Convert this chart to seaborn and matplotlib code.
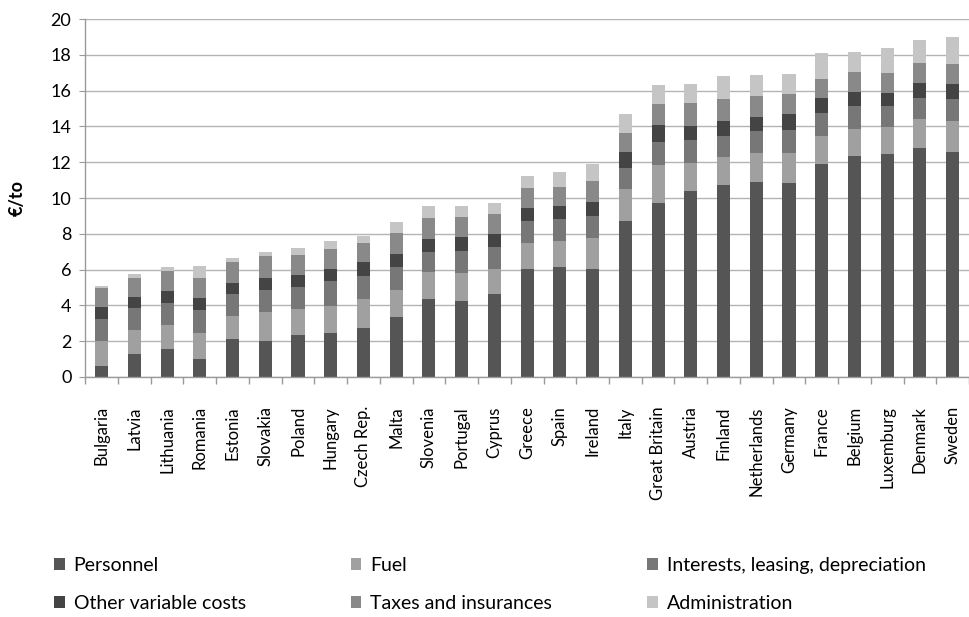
import numpy as np
import pandas as pd
import matplotlib
matplotlib.use("Agg")
import matplotlib.pyplot as plt
from matplotlib.patches import Patch
import seaborn as sns

countries = ["Bulgaria", "Latvia", "Lithuania", "Romania", "Estonia", "Slovakia",
             "Poland", "Hungary", "Czech Rep.", "Malta", "Slovenia", "Portugal",
             "Cyprus", "Greece", "Spain", "Ireland", "Italy", "Great Britain",
             "Austria", "Finland", "Netherlands", "Germany", "France", "Belgium",
             "Luxemburg", "Denmark", "Sweden"]

personnel = [0.61, 1.28, 1.58, 0.99, 2.14, 2.01, 2.33, 2.44, 2.76, 3.35, 4.38, 4.26,
             4.64, 6.01, 6.16, 6.01, 8.70, 9.74, 10.41, 10.71, 10.89, 10.84, 11.88,
             12.36, 12.48, 12.77, 12.59]
fuel = [1.42, 1.35, 1.34, 1.47, 1.29, 1.60, 1.45, 1.51, 1.58, 1.51, 1.47, 1.57,
        1.37, 1.49, 1.45, 1.73, 1.79, 2.12, 1.56, 1.58, 1.64, 1.69, 1.58, 1.51,
        1.47, 1.64, 1.71]
interests = [1.21, 1.21, 1.23, 1.26, 1.21, 1.27, 1.27, 1.41, 1.32, 1.29, 1.13, 1.23,
             1.23, 1.22, 1.21, 1.25, 1.21, 1.29, 1.27, 1.17, 1.21, 1.29, 1.27, 1.27,
             1.19, 1.16, 1.23]
other_variable = [0.65, 0.61, 0.65, 0.67, 0.61, 0.67, 0.63, 0.65, 0.75, 0.72, 0.75, 0.74,
                  0.73, 0.74, 0.73, 0.80, 0.86, 0.91, 0.76, 0.84, 0.80, 0.85, 0.86, 0.78,
                  0.74, 0.87, 0.84]
taxes = [1.06, 1.10, 1.12, 1.16, 1.16, 1.21, 1.14, 1.16, 1.09, 1.16, 1.15, 1.16,
         1.15, 1.12, 1.08, 1.15, 1.10, 1.17, 1.29, 1.21, 1.16, 1.14, 1.08, 1.12,
         1.10, 1.10, 1.15]
administration = [0.13, 0.19, 0.24, 0.67, 0.24, 0.24, 0.38, 0.45, 0.36, 0.62, 0.65, 0.59,
                  0.60, 0.65, 0.80, 0.99, 1.02, 1.08, 1.08, 1.31, 1.15, 1.10, 1.43, 1.10,
                  1.40, 1.32, 1.46]

series_names = ["Personnel", "Fuel", "Interests, leasing, depreciation",
                "Other variable costs", "Taxes and insurances", "Administration"]
series_values = [personnel, fuel, interests, other_variable, taxes, administration]
series_colors = ["#555555", "#a0a0a0", "#777777", "#444444", "#898989", "#c5c5c5"]

plt.rcParams["font.family"] = ["Lato", "DejaVu Sans"]

df = pd.DataFrame({"country": countries})
for name, vals in zip(series_names, series_values):
    df[name] = vals
cum = df[series_names].cumsum(axis=1)

fig = plt.figure(figsize=(9.69, 6.17), dpi=100)
ax = fig.add_axes([0.088, 0.389, 0.912, 0.58])

# stacked bars: draw cumulative tops from the top segment downwards
for name, color in reversed(list(zip(series_names, series_colors))):
    sns.barplot(data=df.assign(top=cum[name]), x="country", y="top", color=color,
                saturation=1, width=0.4, ax=ax, linewidth=0, errorbar=None)

ax.set_ylim(0, 20)
ax.set_xlim(-0.5, len(countries) - 0.5)
ax.set_yticks(np.arange(0, 21, 2))
ax.yaxis.grid(True, color="#b4b4b4", linewidth=1.0)
ax.set_axisbelow(True)
for s in ["top", "right"]:
    ax.spines[s].set_visible(False)
for s in ["left", "bottom"]:
    ax.spines[s].set_color("#9a9a9a")
    ax.spines[s].set_linewidth(1.0)

ax.set_xlabel("")
ax.set_ylabel("€/to", fontsize=13, fontweight="bold", labelpad=18)
ax.tick_params(axis="y", labelsize=13, length=4, color="#9a9a9a", pad=6)
ax.set_xticks(range(len(countries)))
ax.set_xticklabels(countries, rotation=90, fontsize=12)
ax.tick_params(axis="x", which="major", length=0, pad=21)
ax.set_xticks(np.arange(-0.5, len(countries), 1), minor=True)
ax.tick_params(axis="x", which="minor", length=5, color="#9a9a9a", width=1)

# legend laid out in three columns, two rows
handles = [Patch(facecolor=c, edgecolor="none") for c in series_colors]
col_x = [0.056, 0.362, 0.668]
for i, x in enumerate(col_x):
    idx = [i, i + 3]
    fig.legend([handles[j] for j in idx], [series_names[j] for j in idx],
               loc="upper left", bbox_to_anchor=(x, 0.097), frameon=False,
               fontsize=14, handlelength=0.55, handleheight=0.55, handletextpad=0.45,
               labelspacing=1.05, borderaxespad=0, borderpad=0)

fig.savefig("out.png", dpi=100)
